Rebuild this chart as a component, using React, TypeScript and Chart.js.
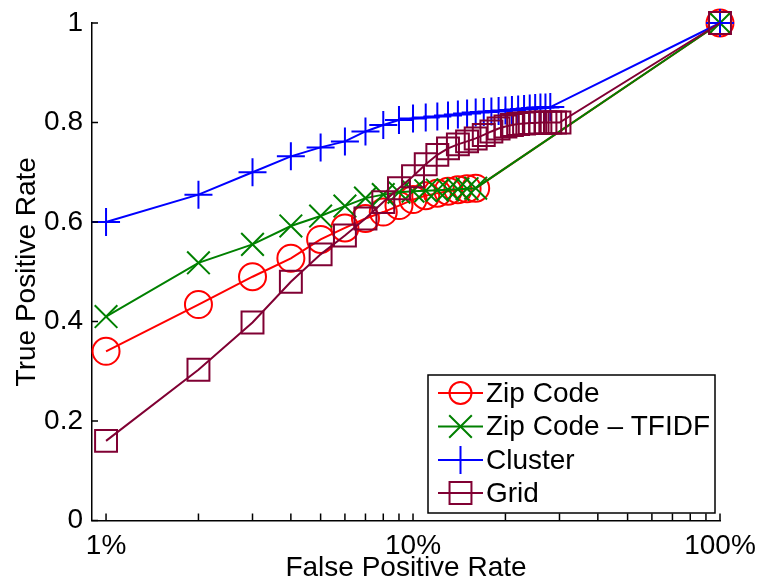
import React, { useEffect, useRef } from 'react';
import { Chart, registerables } from 'chart.js';

Chart.register(...registerables);

// ---- data (x = false positive rate in %, y = true positive rate) ----
const seriesNames = ['Zip Code', 'Zip Code \u2013 TFIDF', 'Cluster', 'Grid'];

const fprZip = [1, 2, 3, 4, 5, 6, 7, 8, 9, 10, 11, 12, 13, 14, 15, 16, 100];
const tprZip = [0.34, 0.434, 0.49, 0.527, 0.565, 0.588, 0.607, 0.62, 0.633, 0.645, 0.653, 0.658, 0.662, 0.665, 0.667, 0.668, 1.0];

const fprTfidf = [1, 2, 3, 4, 5, 6, 7, 8, 9, 10, 11, 12, 13, 14, 15, 16, 100];
const tprTfidf = [0.41, 0.518, 0.555, 0.592, 0.612, 0.632, 0.648, 0.655, 0.66, 0.662, 0.663, 0.664, 0.665, 0.666, 0.667, 0.668, 1.0];

const fprCluster = [1, 2, 3, 4, 5, 6, 7, 8, 9, 10, 11, 12, 13, 14, 15, 16, 17, 18, 19, 20, 21, 22, 23, 24, 25, 26, 27, 28, 100];
const tprCluster = [0.6, 0.655, 0.7, 0.732, 0.75, 0.762, 0.782, 0.795, 0.805, 0.808, 0.81, 0.812, 0.814, 0.816, 0.818, 0.82, 0.821, 0.822, 0.823, 0.824, 0.825, 0.826, 0.827, 0.828, 0.829, 0.83, 0.83, 0.831, 1.0];

const fprGrid = [1, 2, 3, 4, 5, 6, 7, 8, 9, 10, 11, 12, 13, 14, 15, 16, 17, 18, 19, 20, 21, 22, 23, 24, 25, 26, 27, 28, 29, 30, 100];
const tprGrid = [0.16, 0.303, 0.398, 0.48, 0.535, 0.573, 0.607, 0.64, 0.668, 0.692, 0.716, 0.735, 0.748, 0.756, 0.762, 0.768, 0.775, 0.782, 0.788, 0.792, 0.795, 0.797, 0.798, 0.799, 0.799, 0.8, 0.8, 0.8, 0.8, 0.8, 1.0];

const xTickValues = [1, 10, 100];
const xMinorTickValues = [2, 3, 4, 5, 6, 7, 8, 9, 20, 30, 40, 50, 60, 70, 80, 90];
const yTickValues = [0, 0.2, 0.4, 0.6, 0.8, 1];

// ---- styles ----
const FONT = '"Liberation Sans", Arial, Helvetica, sans-serif';
const colors = ['#ff0000', '#008000', '#0000ff', '#800033'];
const pointStyles = ['circle', 'crossRot', 'cross', 'rect'];
const pointRadii = [13.5, 16, 14, 15.5];
const legendRadii = [11, 16, 14, 15.5];

function drawMarker(ctx: CanvasRenderingContext2D, style: string, x: number, y: number, r: number, color: string) {
  ctx.save();
  ctx.strokeStyle = color;
  ctx.lineWidth = 2;
  ctx.beginPath();
  if (style === 'circle') {
    ctx.arc(x, y, r, 0, Math.PI * 2);
  } else if (style === 'crossRot') {
    const d = r * Math.SQRT1_2;
    ctx.moveTo(x - d, y - d); ctx.lineTo(x + d, y + d);
    ctx.moveTo(x - d, y + d); ctx.lineTo(x + d, y - d);
  } else if (style === 'cross') {
    ctx.moveTo(x - r, y); ctx.lineTo(x + r, y);
    ctx.moveTo(x, y - r); ctx.lineTo(x, y + r);
  } else if (style === 'rect') {
    const s = r * Math.SQRT1_2;
    ctx.rect(x - s, y - s, 2 * s, 2 * s);
  }
  ctx.stroke();
  ctx.restore();
}

const matlabPlugin = {
  id: 'matlabDecor',
  afterDraw(chart: any) {
    const ctx: CanvasRenderingContext2D = chart.ctx;
    const xs = chart.scales.x;
    const ys = chart.scales.y;
    const area = chart.chartArea;
    ctx.save();
    ctx.strokeStyle = '#000';
    ctx.lineWidth = 1.5;
    ctx.beginPath();
    // inward y ticks
    yTickValues.forEach((v) => {
      const py = ys.getPixelForValue(v);
      ctx.moveTo(area.left, py);
      ctx.lineTo(area.left + 6, py);
    });
    // inward x ticks (major + minor)
    [...xTickValues, ...xMinorTickValues].forEach((v) => {
      const px = xs.getPixelForValue(v);
      ctx.moveTo(px, area.bottom);
      ctx.lineTo(px, area.bottom - 7);
    });
    ctx.stroke();

    // legend box
    const L = 428, T = 375, R = 715, B = 513;
    ctx.fillStyle = '#fff';
    ctx.fillRect(L, T, R - L, B - T);
    ctx.lineWidth = 1.5;
    ctx.strokeStyle = '#000';
    ctx.strokeRect(L, T, R - L, B - T);
    const rowY = [393, 426.5, 460, 493];
    seriesNames.forEach((name, i) => {
      const y = rowY[i];
      ctx.strokeStyle = colors[i];
      ctx.lineWidth = 2;
      ctx.beginPath();
      ctx.moveTo(438, y);
      ctx.lineTo(483, y);
      ctx.stroke();
      drawMarker(ctx, pointStyles[i], 460.5, y, legendRadii[i], colors[i]);
      ctx.fillStyle = '#000';
      ctx.font = '28px ' + FONT;
      ctx.textBaseline = 'middle';
      ctx.textAlign = 'left';
      ctx.fillText(name, 486, y + 1);
    });
    ctx.restore();
  },
};

export default function App() {
  const ref = useRef<HTMLCanvasElement>(null);
  useEffect(() => {
    const canvas = ref.current;
    if (!canvas) return;
    const xsAll = [fprZip, fprTfidf, fprCluster, fprGrid];
    const ysAll = [tprZip, tprTfidf, tprCluster, tprGrid];
    const datasets = seriesNames.map((name, i) => ({
      label: name,
      data: xsAll[i].map((x, j) => ({ x, y: ysAll[i][j] })),
      borderColor: colors[i],
      backgroundColor: 'rgba(0,0,0,0)',
      pointBorderColor: colors[i],
      pointBackgroundColor: 'rgba(0,0,0,0)',
      pointStyle: pointStyles[i],
      pointRadius: pointRadii[i],
      pointHoverRadius: pointRadii[i],
      pointBorderWidth: 2,
      borderWidth: 2,
      tension: 0,
      showLine: true,
      fill: false,
      clip: false as any,
      order: 3 - i,
    }));
    const chart = new Chart(canvas, {
      type: 'scatter',
      data: { datasets: datasets as any },
      options: {
        animation: false,
        responsive: false,
        maintainAspectRatio: false,
        layout: { padding: { left: 0, right: 41, top: 23, bottom: 0 } },
        plugins: { legend: { display: false }, tooltip: { enabled: false } },
        scales: {
          x: {
            type: 'logarithmic',
            position: 'bottom',
            min: 0.9,
            max: 100,
            grid: { display: false, drawTicks: false },
            border: { display: true, color: '#000', width: 1.5 },
            afterBuildTicks: (scale: any) => {
              scale.ticks = xTickValues.map((v) => ({ value: v }));
            },
            afterFit: (scale: any) => {
              scale.height = 60.5;
              scale.paddingLeft = 0;
              scale.paddingRight = 0;
            },
            ticks: {
              color: '#000',
              font: { family: FONT, size: 28 },
              padding: 9,
              autoSkip: false,
              maxRotation: 0,
              callback: (v: any) => v + '%',
            },
            title: {
              display: true,
              text: 'False Positive Rate',
              color: '#000',
              font: { family: FONT, size: 28, lineHeight: 0.9 },
              padding: { top: 0, bottom: 0 },
            },
          },
          y: {
            type: 'linear',
            position: 'left',
            min: 0,
            max: 1,
            grid: { display: false, drawTicks: false },
            border: { display: true, color: '#000', width: 1.5 },
            afterBuildTicks: (scale: any) => {
              scale.ticks = yTickValues.map((v) => ({ value: v }));
            },
            afterFit: (scale: any) => {
              scale.width = 92;
              scale.paddingTop = 0;
              scale.paddingBottom = 0;
            },
            ticks: {
              color: '#000',
              font: { family: FONT, size: 28 },
              padding: 9,
              callback: (v: any) => String(v),
            },
            title: {
              display: true,
              text: 'True Positive Rate',
              color: '#000',
              font: { family: FONT, size: 28, lineHeight: 1 },
              padding: { top: 13, bottom: 0 },
            },
          },
        },
      },
      plugins: [matlabPlugin],
    });
    return () => chart.destroy();
  }, []);
  return (
    <div style={{ position: 'fixed', left: 0, top: 0, width: 761, height: 581, background: '#fff' }}>
      <canvas ref={ref} width={761} height={581} style={{ width: 761, height: 581, display: 'block' }} />
    </div>
  );
}
